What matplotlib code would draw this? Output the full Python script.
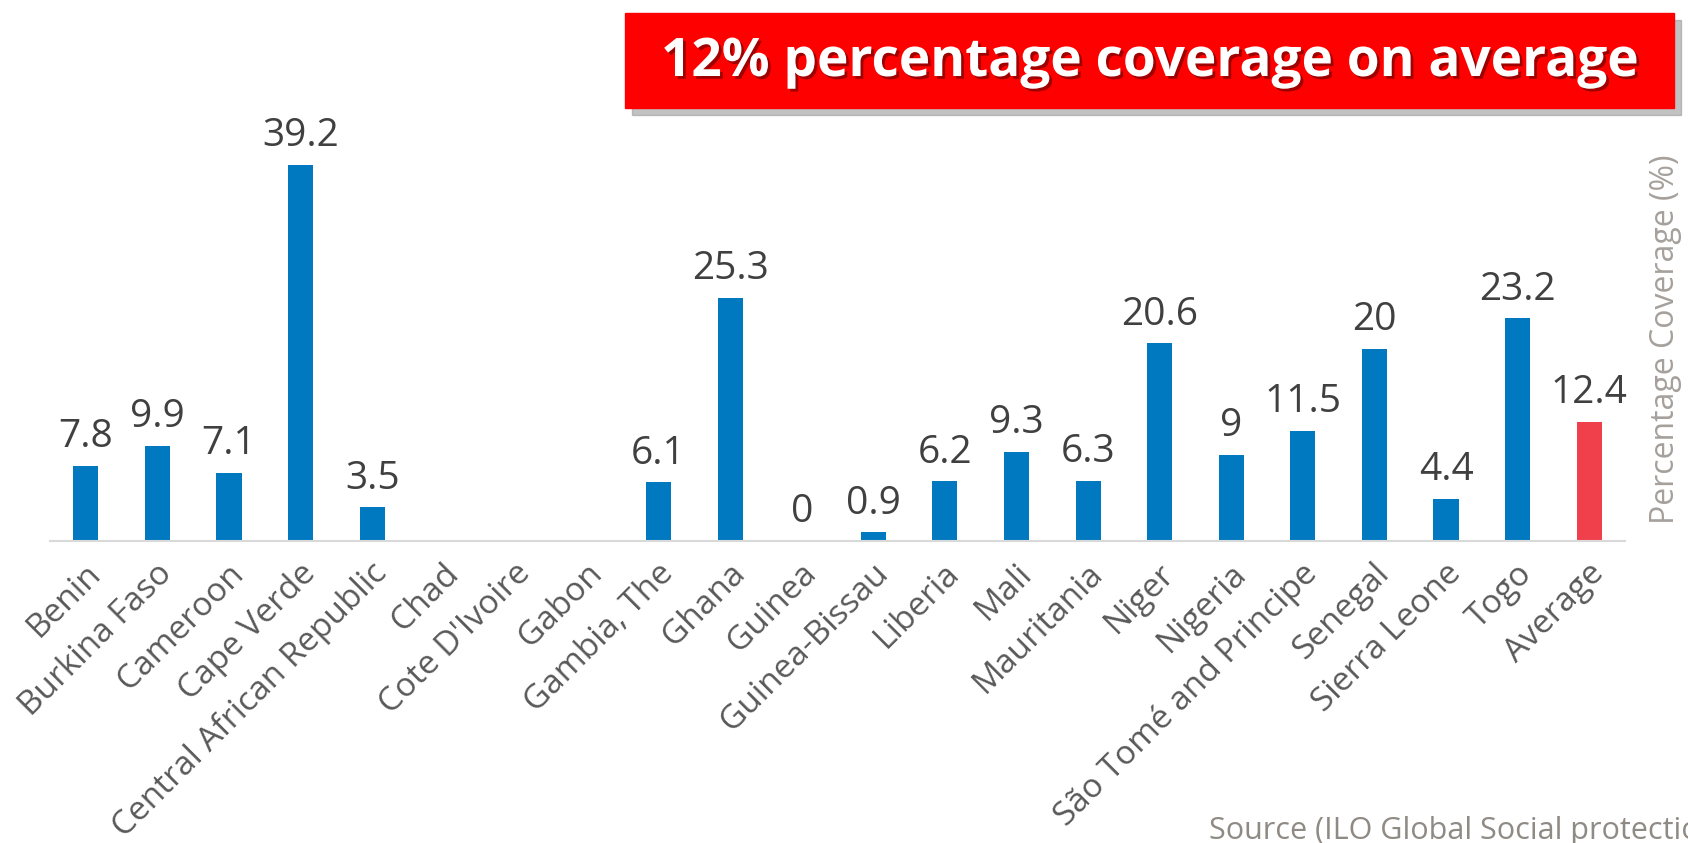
import matplotlib
matplotlib.use("Agg")
import matplotlib.pyplot as plt
import matplotlib.patheffects as pe
import matplotlib.transforms as mtransforms
import numpy as np

countries = [
    "Benin", "Burkina Faso", "Cameroon", "Cape Verde", "Central African Republic",
    "Chad", "Cote D'Ivoire", "Gabon", "Gambia, The", "Ghana", "Guinea",
    "Guinea-Bissau", "Liberia", "Mali", "Mauritania", "Niger", "Nigeria",
    "São Tomé and Principe", "Senegal", "Sierra Leone", "Togo", "Average",
]
# None = no data for that country
coverage = [
    7.8, 9.9, 7.1, 39.2, 3.5,
    None, None, None, 6.1, 25.3, 0,
    0.9, 6.2, 9.3, 6.3, 20.6, 9,
    11.5, 20, 4.4, 23.2, 12.4,
]
title = "12% percentage coverage on average"
ylabel = "Percentage Coverage (%)"
source = "Source (ILO Global Social protection Report)"

BLUE = "#0079C1"
RED = "#F0404C"

W, H = 1688, 843
fig = plt.figure(figsize=(W / 100, H / 100), dpi=100)
plt.rcParams["font.family"] = ["Open Sans", "DejaVu Sans"]

ymax = 45
px_per_unit = 9.6
ax = fig.add_axes([50 / W, (H - 541) / H, (1625 - 50) / W, ymax * px_per_unit / H])

x = np.arange(len(countries))
vals = np.array([np.nan if v is None else v for v in coverage], dtype=float)
colors = [BLUE] * (len(countries) - 1) + [RED]
ax.bar(x, np.nan_to_num(vals), width=0.35, color=colors, zorder=2)

for xi, v in zip(x, coverage):
    if v is None:
        continue
    ax.annotate(f"{v:g}", (xi, v), xytext=(0, 7), textcoords="offset points",
                ha="center", va="bottom", fontsize=28, color="#404040")

ax.set_xlim(-0.5, len(countries) - 0.5)
ax.set_ylim(0, ymax)
ax.set_yticks([])
for s in ["top", "left", "right"]:
    ax.spines[s].set_visible(False)
ax.spines["bottom"].set_color("#D9D9D9")
ax.spines["bottom"].set_linewidth(1.5)

ax.set_xticks(x)
ax.set_xticklabels(countries, rotation=45, ha="right", va="center",
                   rotation_mode="anchor", fontsize=24, color="#595959")
ax.tick_params(axis="x", length=0, pad=20)
shift = mtransforms.ScaledTranslation(10 / 100, 0, fig.dpi_scale_trans)
for lbl in ax.get_xticklabels():
    lbl.set_transform(lbl.get_transform() + shift)

# right-hand axis title
fig.text(1666 / W, 1 - 339 / H, ylabel, rotation=90, ha="center", va="center",
         fontsize=23, color="#A5A09B")

# source line, clipped at the edges like the original
fig.text(1209 / W, 1 - 816 / H, source, ha="left", va="top",
         fontsize=22, color="#8F8A84")

# red title banner with drop shadow
bx0, bx1, by0, by1 = 625, 1674, 13, 108
shadow = plt.Rectangle(((bx0 + 7) / W, 1 - (by1 + 7) / H), (bx1 - bx0) / W, (by1 - by0) / H,
                       transform=fig.transFigure, color="#9A9A9A", alpha=0.6, zorder=5)
box = plt.Rectangle((bx0 / W, 1 - by1 / H), (bx1 - bx0) / W, (by1 - by0) / H,
                    transform=fig.transFigure, color="#FF0000", zorder=6)
fig.patches.extend([shadow, box])
t = fig.text((bx0 + bx1) / 2 / W, 1 - 62 / H, title, ha="center", va="center",
             fontsize=44, fontweight="bold", color="white", zorder=7,
             path_effects=[pe.withSimplePatchShadow(offset=(2, -2), shadow_rgbFace="#600000", alpha=0.6)])

# fit banner text to target width
fig.canvas.draw()
wid = t.get_window_extent().width
t.set_fontsize(44 * 978 / wid)

fig.savefig("out.png", dpi=100)
